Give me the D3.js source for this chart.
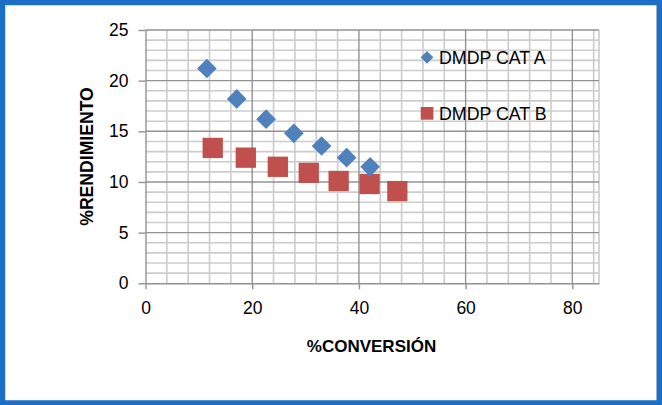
<!DOCTYPE html>
<html>
<head>
<meta charset="utf-8">
<script src="https://cdn.jsdelivr.net/npm/d3@7/dist/d3.min.js"></script>
<style>
  html, body { margin: 0; padding: 0; background: #ffffff; }
  svg { display: block; font-family: "Liberation Sans", Arial, sans-serif; }
</style>
</head>
<body>
<svg id="chart" width="662" height="405"></svg>
<script>
// Series: % conversion (x) vs % yield (y)
const convA = [11.5, 17.1, 22.6, 27.8, 33.0, 37.7, 42.1];
const yieldA = [21.2, 18.2, 16.2, 14.8, 13.55, 12.4, 11.5];
const convB = [12.6, 18.8, 24.8, 30.6, 36.2, 42.0, 47.2];
const yieldB = [13.36, 12.4, 11.5, 10.9, 10.1, 9.8, 9.1];

const seriesNames = ["DMDP CAT A", "DMDP CAT B"];
const xTicks = [0, 20, 40, 60, 80];
const yTicks = [0, 5, 10, 15, 20, 25];

const W = 662, H = 405;
const plot = { left: 145.5, right: 599, top: 30, bottom: 283.3 };

const svg = d3.select("#chart");

svg.append("rect").attr("width", W).attr("height", H).attr("fill", "#ffffff");

const x = d3.scaleLinear().domain([0, 85]).range([plot.left, plot.right]);
const y = d3.scaleLinear().domain([0, 25]).range([plot.bottom, plot.top]);

// Minor gridlines
const g = svg.append("g");
g.selectAll("line.vminor").data(d3.range(4, 85, 4).filter(v => v % 20 !== 0))
  .join("line")
  .attr("x1", d => x(d)).attr("x2", d => x(d))
  .attr("y1", plot.top).attr("y2", plot.bottom)
  .attr("stroke", "#cccccc").attr("stroke-width", 1.6);
g.selectAll("line.hminor").data(d3.range(1, 25, 1).filter(v => v % 5 !== 0))
  .join("line")
  .attr("x1", plot.left).attr("x2", plot.right)
  .attr("y1", d => y(d)).attr("y2", d => y(d))
  .attr("stroke", "#cccccc").attr("stroke-width", 1.6);
// right edge of the grid
g.append("line")
  .attr("x1", plot.right).attr("x2", plot.right)
  .attr("y1", plot.top).attr("y2", plot.bottom)
  .attr("stroke", "#cccccc").attr("stroke-width", 1.6);

// Major gridlines
g.selectAll("line.vmajor").data(xTicks.slice(1))
  .join("line")
  .attr("x1", d => x(d)).attr("x2", d => x(d))
  .attr("y1", plot.top).attr("y2", plot.bottom)
  .attr("stroke", "#929292").attr("stroke-width", 1.4);
g.selectAll("line.hmajor").data(yTicks.slice(1))
  .join("line")
  .attr("x1", plot.left).attr("x2", plot.right)
  .attr("y1", d => y(d)).attr("y2", d => y(d))
  .attr("stroke", "#929292").attr("stroke-width", 1.4);

// Axes
const xAxis = d3.axisBottom(x).tickValues(xTicks).tickSize(6).tickPadding(12).tickSizeOuter(0);
const yAxis = d3.axisLeft(y).tickValues(yTicks).tickSize(7).tickPadding(10).tickSizeOuter(0);

const gx = svg.append("g").attr("transform", `translate(0,${plot.bottom})`).call(xAxis);
const gy = svg.append("g").attr("transform", `translate(${plot.left},0)`).call(yAxis);

[gx, gy].forEach(a => {
  a.select(".domain").attr("stroke", "#929292").attr("stroke-width", 1.4);
  a.selectAll(".tick line").attr("stroke", "#929292").attr("stroke-width", 1.4);
  a.selectAll(".tick text").attr("fill", "#000000")
    .style("font-family", "'Liberation Sans', Arial, sans-serif")
    .style("font-size", "17.5px");
});
gx.selectAll(".tick text").attr("dy", "0.71em");

// Markers
const diamond = d3.symbol().type(d3.symbolSquare).size(19.7 * 19.7 / 2);
const ptsA = convA.map((c, i) => [c, yieldA[i]]);
const ptsB = convB.map((c, i) => [c, yieldB[i]]);

svg.append("g").selectAll("rect").data(ptsB).join("rect")
  .attr("x", d => x(d[0]) - 10.15).attr("y", d => y(d[1]) - 10.15)
  .attr("width", 20.3).attr("height", 20.3)
  .attr("fill", "#C0504D");

svg.append("g").selectAll("path").data(ptsA).join("path")
  .attr("d", diamond)
  .attr("transform", d => `translate(${x(d[0])},${y(d[1])}) rotate(45)`)
  .attr("fill", "#4F81BD");

// Legend
const leg = svg.append("g");
leg.append("path")
  .attr("d", d3.symbol().type(d3.symbolSquare).size(12.7 * 12.7 / 2)())
  .attr("transform", "translate(427,57.3) rotate(45)")
  .attr("fill", "#4F81BD");
leg.append("text").attr("x", 439).attr("y", 64).text(seriesNames[0])
  .attr("font-size", "17.8px").attr("fill", "#000");
leg.append("rect").attr("x", 420.7).attr("y", 107).attr("width", 12.7).attr("height", 12.7)
  .attr("fill", "#C0504D");
leg.append("text").attr("x", 439).attr("y", 120).text(seriesNames[1])
  .attr("font-size", "17.8px").attr("fill", "#000");

// Axis titles
svg.append("text")
  .attr("x", 371.5).attr("y", 352)
  .attr("text-anchor", "middle")
  .attr("font-weight", "bold").attr("font-size", "17px")
  .text("%CONVERSIÓN");
svg.append("text")
  .attr("transform", "translate(93,156.5) rotate(-90)")
  .attr("text-anchor", "middle")
  .attr("font-weight", "bold").attr("font-size", "17.6px")
  .text("%RENDIMIENTO");

// Frame
svg.append("line").attr("x1", 656.5).attr("x2", 656.5).attr("y1", 5).attr("y2", 401)
  .attr("stroke", "#c8c8c8").attr("stroke-width", 1);
svg.append("rect")
  .attr("x", 2.5).attr("y", 2.5).attr("width", 657).attr("height", 400.5)
  .attr("fill", "none").attr("stroke", "#1C6FC6").attr("stroke-width", 5.5);
</script>
</body>
</html>
